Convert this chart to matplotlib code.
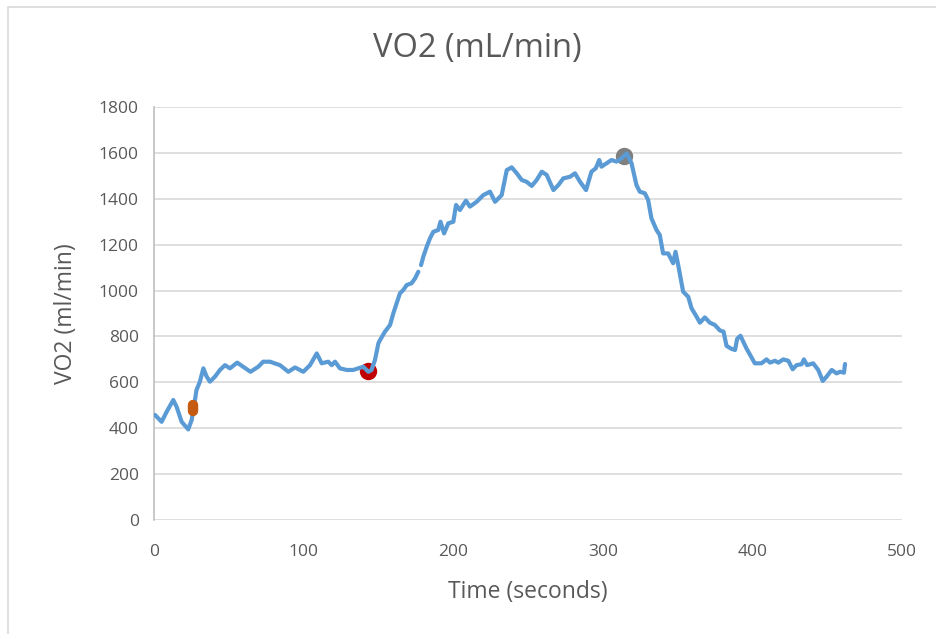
import numpy as np
import matplotlib
matplotlib.use("Agg")
import matplotlib.pyplot as plt
from matplotlib.patches import Rectangle

plt.rcParams['font.family'] = ['Open Sans', 'DejaVu Sans']

# Curva VO2 (tiempo en s, VO2 en mL/min); NaN = hueco en la serie
tiempo = [0.7, 5.1, 8.5, 12.9, 15.1, 18.5, 22.9, 25.2, 27.4, 28.4, 30.7, 33.0, 35.2,
          37.4, 40.8, 44.1, 47.5, 50.8, 55.6, 59.6, 64.5, 69.7, 73.0, 77.5, 84.2,
          89.8, 94.3, 99.8, 104.3, 108.8, 112.1, 116.5, 118.8, 121.0, 124.3, 128.8,
          133.2, 136.5, 139.9, 143.3, 145.4, 147.7, 150.0, 151.1, 154.4, 157.8,
          160.0, 162.2, 164.4, 166.6, 168.9, 172.2, 174.5, 176.7, 177.6, 178.5,
          180.0, 182.3, 184.5, 186.7, 190.0, 191.5, 193.9, 196.7, 200.1, 201.9,
          204.5, 208.5, 211.2, 215.7, 220.1, 224.6, 228.0, 232.4, 235.8, 239.1,
          242.5, 245.8, 249.1, 252.5, 255.8, 259.2, 262.5, 267.0, 270.3, 273.6,
          278.1, 281.4, 284.8, 288.8, 292.4, 295.3, 297.6, 299.1, 302.5, 305.8,
          309.2, 312.5, 315.9, 319.2, 322.5, 324.7, 328.1, 330.3, 332.5, 335.9,
          338.1, 340.3, 343.7, 347.0, 348.6, 350.4, 353.7, 357.1, 359.3, 362.7,
          364.9, 368.2, 371.6, 374.9, 378.3, 380.7, 382.7, 386.0, 388.4, 389.8,
          392.0, 396.0, 401.6, 406.1, 409.4, 411.8, 415.1, 417.3, 420.6, 424.0,
          426.9, 429.5, 432.9, 434.4, 436.6, 440.6, 444.0, 447.0, 449.6, 453.0,
          456.3, 458.6, 461.2, 461.9]
vo2 = [458, 428, 472, 523, 494, 428, 395, 436, 523, 566, 603, 661, 625,
       603, 625, 654, 675, 661, 686, 668, 646, 668, 690, 690, 675,
       646, 665, 646, 675, 726, 683, 690, 675, 690, 661, 654,
       654, 661, 668, 646, 654, 697, 770, 784, 821, 850,
       901, 944, 988, 1002, 1024, 1032, 1053, 1082, np.nan, 1111,
       1147, 1191, 1228, 1256, 1264, 1300, 1249, 1293, 1300, 1373,
       1351, 1392, 1366, 1387, 1416, 1431, 1387, 1416, 1525, 1537,
       1511, 1482, 1474, 1456, 1482, 1518, 1504, 1438, 1460, 1489,
       1496, 1511, 1474, 1438, 1518, 1533, 1569, 1540, 1555, 1569,
       1562, 1576, 1598, 1555, 1460, 1431, 1424, 1395, 1315, 1264,
       1242, 1162, 1162, 1119, 1169, 1111, 995, 973, 923, 886,
       860, 883, 860, 850, 826, 821, 759, 746, 741, 790,
       803, 748, 683, 683, 700, 686, 694, 686, 700, 694,
       657, 675, 679, 700, 675, 683, 654, 606, 625, 654,
       639, 646, 642, 680]

# Puntos marcados
t_naranja = [26.1, 26.1]
vo2_naranja = [474, 503]
t_rojo = [143.0]
vo2_rojo = [649]
t_gris = [314.2]
vo2_gris = [1586]

color_texto = '#595959'

fig = plt.figure(figsize=(9.36, 6.34), dpi=100)
ax = fig.add_axes([0.1645, 0.1798, 0.7992, 0.6514])

# Marco del gráfico
fig.patches.append(Rectangle((8 / 936, -0.1), 1.2, 0.1 + (634 - 7) / 634,
                             transform=fig.transFigure, fill=False,
                             edgecolor='#d9d9d9', linewidth=1.2))

ax.plot(tiempo, vo2, color='#5B9BD5', linewidth=3, solid_capstyle='round',
        solid_joinstyle='round', zorder=3)
ax.plot(t_naranja, vo2_naranja, color='#C55A11', linewidth=7.5,
        solid_capstyle='round', zorder=4)
ax.plot(t_rojo, vo2_rojo, 'o', color='#C00000', markersize=11.5, zorder=2)
ax.plot(t_gris, vo2_gris, 'o', color='#7F7F7F', markersize=11.5, zorder=2)

ax.set_xlim(0, 500)
ax.set_ylim(0, 1800)
ax.set_xticks(np.arange(0, 501, 100))
ax.set_yticks(np.arange(0, 1801, 200))
ax.grid(True, axis='y', color='#d9d9d9', linewidth=1.2)
ax.set_axisbelow(True)
for lado in ['top', 'right', 'bottom']:
    ax.spines[lado].set_visible(False)
ax.spines['left'].set_color('#bfbfbf')
ax.spines['left'].set_linewidth(1.2)
ax.tick_params(length=0, labelsize=12.5, colors=color_texto)
ax.tick_params(axis='x', pad=17)
ax.tick_params(axis='y', pad=11)

fig.text(477 / 936, 1 - 48 / 634, 'VO2 (mL/min)', fontsize=23.5, color=color_texto,
         ha='center', va='center')
ax.set_xlabel('Time (seconds)', fontsize=16.5, color=color_texto, labelpad=15)
ax.set_ylabel('VO2 (ml/min)', fontsize=16.5, color=color_texto, labelpad=15)

fig.savefig('out.png', dpi=100, facecolor='white')
